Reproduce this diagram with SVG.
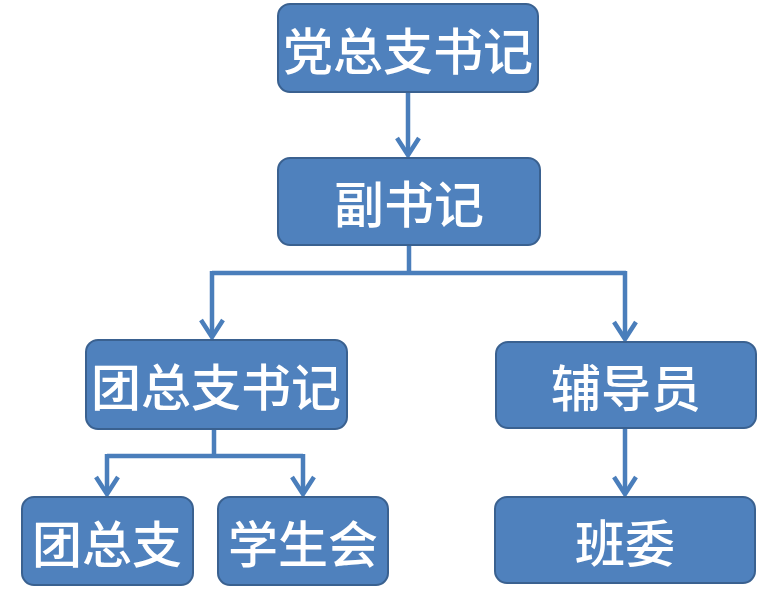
<svg xmlns="http://www.w3.org/2000/svg" width="757" height="601" viewBox="0 0 757 601">
<defs>
<style>
.box{fill:#4F81BD;stroke:#3A6190;stroke-width:2}
.lbl{fill:#fff;font-family:"Noto Sans CJK SC","Noto Sans",sans-serif;font-size:50px;font-weight:500;text-anchor:middle;dominant-baseline:central}
.ln{fill:none;stroke:#4A7EBB;stroke-width:4.5}
</style>
</defs>
<rect width="757" height="601" fill="#fff"/>
<g id="connectors" class="ln" stroke-linecap="butt" stroke-linejoin="miter">
<path d="M408 92 V155"/>
<path d="M397 138 L408 155 L419 138"/>
<path d="M409 245 V273 M212 273 H626 M212 271 V337 M625 271 V339"/>
<path d="M201 320 L212 337 L223 320"/>
<path d="M614 322 L625 339 L636 322"/>
<path d="M625 428 V494"/>
<path d="M614 477 L625 494 L636 477"/>
<path d="M214 429 V456 M107 456 H303 M107 454 V494 M303 454 V494"/>
<path d="M96 477 L107 494 L118 477"/>
<path d="M292 477 L303 494 L314 477"/>
</g>
<g id="n1"><rect class="box" x="278" y="4" width="260" height="88" rx="12"/><text class="lbl" x="408" y="48">党总支书记</text></g>
<g id="n2"><rect class="box" x="278" y="158" width="262" height="87" rx="12"/><text class="lbl" x="409" y="201">副书记</text></g>
<g id="n3"><rect class="box" x="86" y="340" width="261" height="89" rx="12"/><text class="lbl" x="216" y="384">团总支书记</text></g>
<g id="n4"><rect class="box" x="496" y="342" width="260" height="86" rx="12"/><text class="lbl" x="626" y="385">辅导员</text></g>
<g id="n5"><rect class="box" x="22" y="497" width="171" height="88" rx="12"/><text class="lbl" x="107" y="541">团总支</text></g>
<g id="n6"><rect class="box" x="218" y="497" width="170" height="88" rx="12"/><text class="lbl" x="303" y="541">学生会</text></g>
<g id="n7"><rect class="box" x="495" y="497" width="260" height="86" rx="12"/><text class="lbl" x="625" y="540">班委</text></g>
</svg>
